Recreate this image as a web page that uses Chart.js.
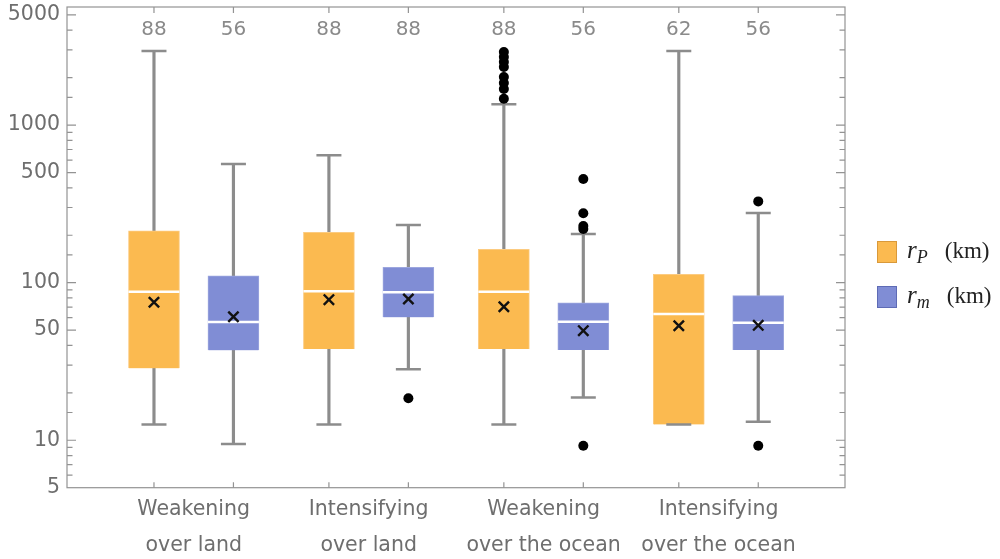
<!DOCTYPE html>
<html><head><meta charset="utf-8">
<script src="https://cdn.jsdelivr.net/npm/chart.js@4.4.1/dist/chart.umd.min.js"></script>
<style>
html,body{margin:0;padding:0;background:#fff;}
#wrap{position:relative;width:1000px;height:559px;overflow:hidden;}
#legend{position:absolute;left:877px;top:241px;font-family:"Liberation Serif","DejaVu Serif",serif;color:#222;}
.item{position:relative;height:22px;margin-bottom:23px;}
.sw{position:absolute;left:0;top:0;width:20px;height:22px;box-sizing:border-box;}
.lab{position:absolute;left:30px;top:-6px;white-space:nowrap;font-size:25px;line-height:30px;}
.lab i{font-style:italic;}
.lab sub{font-size:18px;font-style:italic;vertical-align:-5px;line-height:0;}
.lab .u{font-size:23px;margin-left:17px;}
</style></head>
<body>
<div id="wrap">
<canvas id="c" width="1000" height="559"></canvas>
<div id="legend">
  <div class="item"><div class="sw" style="background:#FBBA50;border:1px solid #D9993A"></div><div class="lab"><i>r</i><sub>P</sub><span class="u">(km)</span></div></div>
  <div class="item"><div class="sw" style="background:#808DD5;border:1px solid #5E6BB5"></div><div class="lab"><i>r</i><sub>m</sub><span class="u">(km)</span></div></div>
</div>
</div>
<script>
const categories = [['Weakening','over land'],['Intensifying','over land'],['Weakening','over the ocean'],['Intensifying','over the ocean']];
const countsP = [88, 88, 88, 62];
const countsM = [56, 88, 56, 56];
const pMin = [12.6, 12.6, 12.6, 12.6];
const pQ1 = [28.6, 37.9, 37.9, 12.6];
const pMedian = [87.6, 88.2, 87.6, 63.2];
const pQ3 = [213.7, 208.7, 162.8, 113];
const pMax = [2953, 643, 1355, 2953];
const pMean = [75.1, 78.0, 70.4, 53.3];
const pOutliers = [[], [], [1471, 1694, 1850, 2020, 2337, 2514, 2705, 2910], []];
const mMin = [9.46, 28.2, 18.7, 13.1];
const mQ1 = [37.2, 60.3, 37.4, 37.4];
const mMedian = [56.3, 86.9, 56.5, 55.7];
const mQ3 = [110.7, 125.2, 74.6, 82.7];
const mMax = [566, 232, 203.6, 276.8];
const mMean = [60.8, 78.8, 49.6, 53.6];
const mOutliers = [[], [18.5], [9.23, 219, 228.8, 275.6, 455], [9.23, 328]];
const yTickLabels = [5, 10, 50, 100, 500, 1000, 5000];

const OFF = 0.2271;
const posP = categories.map((c, i) => i + 1 - OFF);
const posM = categories.map((c, i) => i + 1 + OFF);
const allPos = posP.concat(posM);
const allCounts = countsP.concat(countsM);

function isMajor(v){ return yTickLabels.some(m => Math.abs(m - v) / m < 1e-6); }

const whiskers = [];
const caps = [];
const medians = [];
const means = [];
const outliers = [];
function addSeries(pos, mn, mx, med, mean, outs){
  pos.forEach((x, i) => {
    whiskers.push({x, y:[mn[i], mx[i]]});
    caps.push({x, y:mn[i]}); caps.push({x, y:mx[i]});
    medians.push({x, y:med[i]});
    means.push({x, y:mean[i]});
    outs[i].forEach(v => outliers.push({x, y:v}));
  });
}
addSeries(posP, pMin, pMax, pMedian, pMean, pOutliers);
addSeries(posM, mMin, mMax, mMedian, mMean, mOutliers);

const GRAY = '#8c8c8c';
const framePlugin = {
  id: 'frame',
  beforeDatasetsDraw(chart){
    const {ctx, chartArea:a, scales:{x, y}} = chart;
    ctx.save();
    ctx.strokeStyle = '#939393';
    ctx.lineWidth = 1.2;
    ctx.strokeRect(a.left, a.top, a.right - a.left, a.bottom - a.top);
    ctx.beginPath();
    y.ticks.forEach(t => {
      const py = y.getPixelForValue(t.value);
      if (py < a.top + 0.5 || py > a.bottom - 0.5) return;
      const len = isMajor(t.value) ? 9 : 5.5;
      ctx.moveTo(a.left, py); ctx.lineTo(a.left + len, py);
      ctx.moveTo(a.right, py); ctx.lineTo(a.right - len, py);
    });
    allPos.forEach(v => {
      const px = x.getPixelForValue(v);
      ctx.moveTo(px, a.bottom); ctx.lineTo(px, a.bottom - 5.5);
      ctx.moveTo(px, a.top); ctx.lineTo(px, a.top + 6);
    });
    ctx.stroke();
    ctx.restore();
  },
  afterDatasetsDraw(chart){
    const {ctx, chartArea:a, scales:{x}} = chart;
    ctx.save();
    ctx.fillStyle = '#8a8a8a';
    ctx.font = '20px "DejaVu Sans"';
    ctx.textAlign = 'center';
    ctx.textBaseline = 'middle';
    allPos.forEach((v, i) => ctx.fillText(String(allCounts[i]), x.getPixelForValue(v), a.top + 23));
    ctx.restore();
  }
};

new Chart(document.getElementById('c'), {
  type: 'bar',
  data: {
    datasets: [
      {type:'scatter', label:'outliers', data: outliers, pointStyle:'circle', radius:5, backgroundColor:'#000', borderWidth:0, order:1},
      {type:'scatter', label:'mean', data: means, pointStyle:'crossRot', radius:7.3, borderColor:'#111', borderWidth:2.4, backgroundColor:'#111', order:2},
      {type:'scatter', label:'median', data: medians, pointStyle:'line', radius:25.5, borderColor:'#fff', borderWidth:2.5, order:3},
      {type:'scatter', label:'caps', data: caps, pointStyle:'line', radius:12.5, borderColor:GRAY, borderWidth:2.5, order:4},
      {type:'bar', label:'rP (km)', data: posP.map((x, i) => ({x, y:[pQ1[i], pQ3[i]]})), backgroundColor:'#FBBA50', borderColor:'#FCCB80', borderWidth:1, barThickness:51, grouped:false, order:5},
      {type:'bar', label:'rm (km)', data: posM.map((x, i) => ({x, y:[mQ1[i], mQ3[i]]})), backgroundColor:'#808DD5', borderColor:'#9CA6DE', borderWidth:1, barThickness:51, grouped:false, order:5},
      {type:'bar', label:'whisker', data: whiskers, backgroundColor:GRAY, borderWidth:0, barThickness:2.5, grouped:false, order:10}
    ]
  },
  options: {
    responsive:false,
    animation:false,
    devicePixelRatio:1,
    events:[],
    layout:{autoPadding:false, padding:{left:0, right:155, top:7, bottom:0}},
    plugins:{legend:{display:false}, tooltip:{enabled:false}},
    scales:{
      x:{
        type:'linear', min:0.2757, max:4.723, offset:false,
        grid:{display:false, drawTicks:false, offset:false},
        border:{display:false},
        afterBuildTicks(scale){ scale.ticks = categories.map((c, i) => ({value:i + 1})); },
        afterFit(scale){ scale.height = 71.3; scale.paddingLeft = 0; scale.paddingRight = 0; },
        ticks:{
          autoSkip:false, maxRotation:0, padding:4,
          color:'#6e6e6e',
          font:{family:'"DejaVu Sans"', size:20.5, lineHeight:1.76},
          callback:(v) => categories[Math.round(v) - 1]
        }
      },
      y:{
        type:'logarithmic', min:5, max:5616,
        grid:{display:false, drawTicks:false},
        border:{display:false},
        afterFit(scale){ scale.width = 67; scale.paddingTop = 0; scale.paddingBottom = 0; },
        ticks:{
          autoSkip:false, padding:7,
          color:'#6e6e6e',
          font:{family:'"DejaVu Sans"', size:20.5},
          callback:(v) => isMajor(v) ? String(v) : ''
        }
      }
    }
  },
  plugins:[framePlugin]
});
</script>
</body></html>
